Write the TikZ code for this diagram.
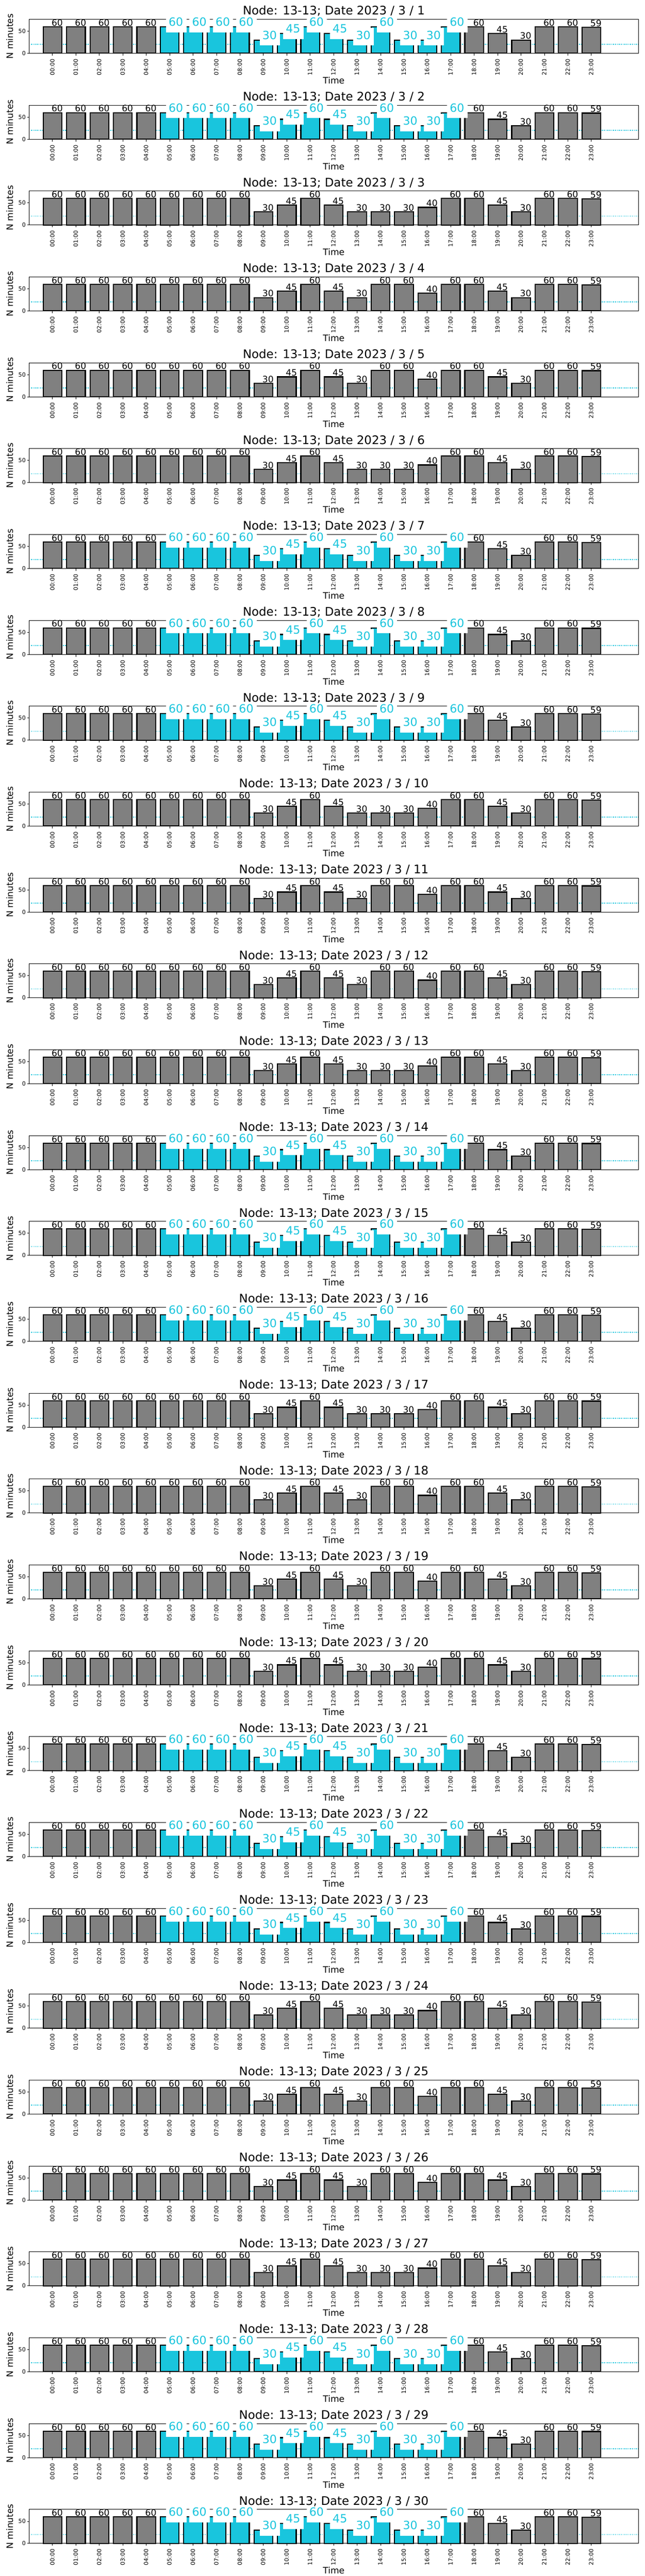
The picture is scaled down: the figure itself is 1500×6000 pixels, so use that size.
\documentclass[tikz,border=0pt]{standalone}
\usepackage{fontspec}
\setmainfont{DejaVu Sans}
\definecolor{tabcyan}{HTML}{19C5DD}
\definecolor{bargray}{HTML}{808080}
\def\valsA{60,60,60,60,60,60,60,60,60,30,45,60,45,30,60,30,30,60,60,45,30,60,60,59}
\def\valsB{60,60,60,60,60,60,60,60,60,30,45,60,45,30,30,30,40,60,60,45,30,60,60,59}
\def\valsC{60,60,60,60,60,60,60,60,60,30,45,60,45,30,60,60,40,60,60,45,30,60,60,59}
\tikzset{
  axframe/.style={draw=black, line width=1.05pt},
  graybar/.style={fill=bargray, draw=black, line width=2.6pt},
  cyanbar/.style={fill=tabcyan, draw=black, line width=2.6pt},
  tickline/.style={draw=black, line width=1.05pt},
  ticklab/.style={font=\fontsize{13.3}{14}\selectfont, inner sep=0pt},
  graylab/.style={font=\fontsize{20.5}{22}\selectfont, inner sep=0pt, anchor=base west, text=black},
  cyanlab/.style={font=\fontsize{26.5}{28}\selectfont, inner sep=0pt, anchor=base west, text=tabcyan},
  labbox/.style={fill=white, draw=none},
  axlab/.style={font=\fontsize{20.5}{22}\selectfont, inner sep=0pt},
  titlelab/.style={font=\fontsize{27.5}{30}\selectfont, inner sep=0pt, anchor=base},
  threshold/.style={draw=tabcyan, line width=2pt, dash pattern=on 2pt off 2.4pt},
}
\begin{document}
\begin{tikzpicture}[x=1pt,y=-1pt]
\useasboundingbox[fill=white] (0,0) rectangle (1500,6000);
\foreach \d/\t in {1/1,2/1,3/2,4/3,5/3,6/2,7/1,8/1,9/1,10/2,11/3,12/3,13/2,14/1,15/1,16/1,17/2,18/3,19/3,20/2,21/1,22/1,23/1,24/2,25/3,26/3,27/2,28/1,29/1,30/1}{
  \pgfmathsetmacro\oy{(\d-1)*200}
  \ifcase\t\or\global\let\curvals\valsA\or\global\let\curvals\valsB\or\global\let\curvals\valsC\fi
  % frame and threshold
  \draw[axframe] (68.3,{\oy+45}) rectangle (1485.7,{\oy+124});
  \draw[threshold] (72,{\oy+103.5}) -- (1485.7,{\oy+103.5});
  % bars
  \foreach \v [count=\hh from 0] in \curvals {
    \pgfmathsetmacro\cx{122.3+54.52*\hh}
    \pgfmathsetmacro\ty{\oy+124-1.027*\v}
    \def\barstyle{graybar}
    \ifnum\t=1 \ifnum\hh>4 \ifnum\hh<18 \def\barstyle{cyanbar}\fi\fi\fi
    \draw[\barstyle] ({\cx-21.8},{\oy+124}) rectangle ({\cx+21.8},\ty);
    \draw[tickline] (\cx,{\oy+124}) -- (\cx,{\oy+129.5});
    \node[ticklab, rotate=90, anchor=east] (tl-\d-\hh) at ({\cx-0.5},{\oy+137}) {\ifnum\hh<10 0\fi\hh:00};
  }
  % labels
  \foreach \v [count=\hh from 0] in \curvals {
    \pgfmathsetmacro\cx{122.3+54.52*\hh}
    \pgfmathsetmacro\ty{\oy+124-1.027*\v}
    \def\ishl{0}
    \ifnum\t=1 \ifnum\hh>4 \ifnum\hh<18 \def\ishl{1}\fi\fi\fi
    \ifnum\ishl=1
      \fill[labbox] ({\cx-8.5},{\ty-28}) rectangle ({\cx+39},{\ty+13});
      \node[cyanlab] (lab-\d-\hh) at ({\cx-2.5},{\ty-1.8}) {\v};
    \else
      \node[graylab] (lab-\d-\hh) at ({\cx-2.5},{\ty-2}) {\v};
    \fi
  }
  % y axis
  \draw[tickline] (63.5,{\oy+124}) -- (68.3,{\oy+124});
  \draw[tickline] (63.5,{\oy+72.65}) -- (68.3,{\oy+72.65});
  \node[ticklab, anchor=east] (y0-\d) at (60,{\oy+124}) {0};
  \node[ticklab, anchor=east] (y50-\d) at (60,{\oy+72.65}) {50};
  \node[axlab, rotate=90, anchor=base] (yl-\d) at (30,{\oy+84.5}) {N minutes};
  \node[axlab, anchor=base] (xl-\d) at (776.7,{\oy+195}) {Time};
  \node[titlelab] (ti-\d) at (777,{\oy+34.5}) {Node: 13-13; Date 2023 / 3 / \d};
}
\end{tikzpicture}
\end{document}
